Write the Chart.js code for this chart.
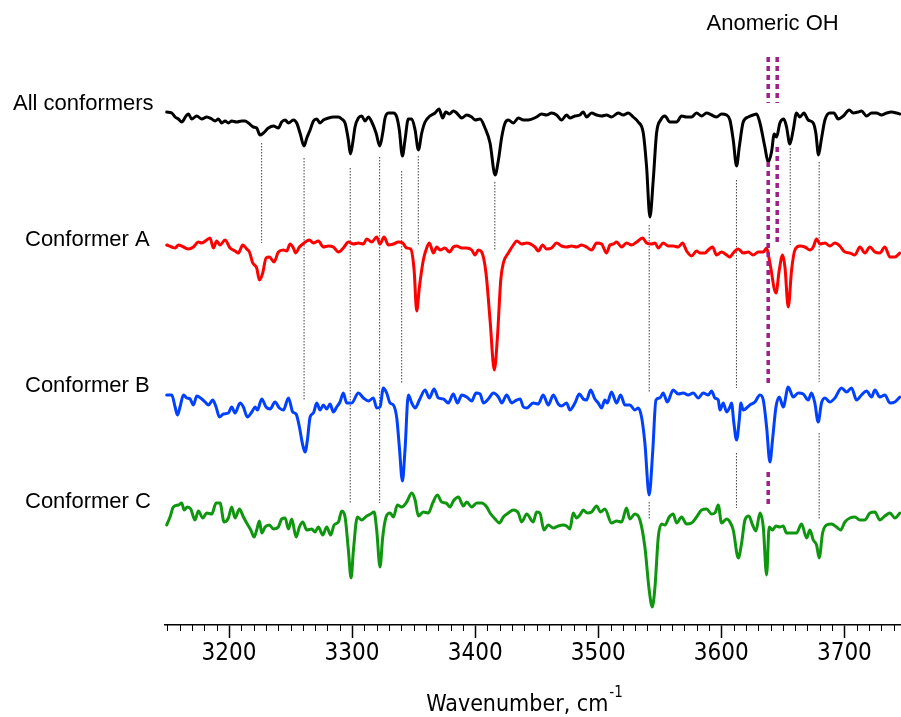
<!DOCTYPE html>
<html>
<head>
<meta charset="utf-8">
<title>IR spectra of conformers</title>
<script src="https://cdn.jsdelivr.net/npm/chart.js@4.4.1/dist/chart.umd.min.js"></script>
<style>
  html, body { margin: 0; padding: 0; background: #fff; }
  canvas { display: block; }
</style>
</head>
<body>
<canvas id="spectra" width="901" height="717"></canvas>
<script>
// wavenumbers (cm-1) and signal (arb. units, dips = absorption)
const allWn = [3149.4,3153.5,3156.2,3158.9,3161.6,3165.1,3167.0,3169.7,3173.8,3177.9,
  3181.9,3186.0,3188.7,3191.4,3194.1,3196.8,3199.5,3202.2,3206.3,3210.3,
  3213.1,3215.8,3219.8,3222.5,3225.2,3227.9,3232.0,3236.1,3240.1,3242.8,
  3245.6,3248.3,3252.3,3255.0,3257.7,3261.0,3263.2,3265.9,3268.6,3271.3,
  3274.0,3276.7,3280.8,3284.8,3288.9,3291.6,3294.3,3297.0,3298.6,3300.5,
  3302.4,3305.1,3307.8,3310.5,3313.3,3316.0,3319.5,3322.5,3324.9,3326.8,
  3329.5,3333.6,3336.3,3338.4,3340.9,3343.0,3345.7,3348.5,3351.2,3353.9,
  3356.6,3359.3,3363.3,3367.4,3370.7,3373.6,3376.1,3379.1,3382.3,3385.0,
  3389.1,3393.1,3397.2,3399.9,3404.0,3408.0,3412.1,3416.2,3418.9,3421.6,
  3424.3,3427.0,3431.0,3435.1,3439.2,3443.2,
  3449.9,3454.0,3458.0,3462.1,3466.2,3470.2,3474.3,3477.0,3481.1,3485.1,
  3487.8,3490.5,3494.6,3498.7,3502.7,3506.8,3510.8,3516.3,3520.3,3524.4,
  3528.4,3532.5,3536.6,3539.3,3542.0,3544.7,3547.4,3550.7,3554.2,3558.2,
  3563.7,3567.7,3571.8,3575.8,3579.9,3584.0,3588.0,3592.1,3596.1,3600.2,
  3604.3,3607.0,3609.7,3612.4,3614.6,3617.8,3621.9,3625.9,3628.6,3631.4,
  3635.4,3638.1,3640.8,3643.0,3644.9,3647.6,3650.8,3653.0,3655.7,3658.4,
  3661.1,3663.8,3667.1,3670.6,3674.7,3676.8,3679.0,3681.2,3684.2,3688.2,
  3691.5,3695.0,3699.1,3703.9,3707.2,3711.2,3713.9,3718.0,3722.1,3726.1,
  3730.2,3734.3,3738.3,3742.4,3745.1];
const allSig = [3,2,-2,-4,-7,-1,1,-4,-1,-4,
  -2,-4,-6,-4,-8,-6,-8,-6,-7,-6,
  -6,-8,-12,-13,-20,-18,-13,-11,-13,-7,
  -5,-8,-5,-8,-18,-31,-23,-15,-6,-4,
  -8,-5,-3,-2,-2,-4,-8,-25,-39,-28,
  -12,-3,-1,-6,-2,-7,-18,-31,-18,-3,
  2,2,-2,-15,-41,-25,-4,-4,-15,-35,
  -18,-7,-1,2,6,-3,3,1,4,2,
  -3,0,-2,-5,-4,-13,-28,-60,-45,-22,
  -8,-5,-8,-3,-5,-5,
  -2,1,0,2,0,-5,0,-3,-1,0,
  3,-2,2,0,-1,0,-2,2,0,2,
  -2,-7,-18,-52,-102,-65,-18,-5,-1,-7,
  -7,-1,-2,-2,2,-1,2,0,-2,1,
  0,-5,-25,-51,-32,-7,-2,0,1,-8,
  -32,-47,-37,-19,-22,-8,-4,-12,-29,-15,
  2,-2,2,-5,-8,-18,-40,-25,-5,2,
  2,-4,-1,5,2,3,4,-1,2,2,
  0,2,3,2,1];

const confAWn = [3149.4,3153.5,3156.2,3158.9,3163.0,3167.0,3171.1,3175.1,3177.9,3181.9,
  3184.6,3187.3,3190.0,3192.7,3196.8,3200.9,3204.9,3207.6,3211.2,3214.4,
  3216.6,3219.3,3222.5,3224.7,3227.4,3230.1,3232.8,3236.6,3240.1,3244.2,
  3246.9,3249.6,3252.3,3254.2,3257.2,3261.0,3265.3,3268.6,3272.6,3276.7,
  3280.8,3284.8,3288.9,3292.9,3297.0,3301.1,3305.1,3309.2,3311.9,3316.0,
  3320.0,3322.7,3326.0,3329.5,3333.6,3337.6,3341.1,3344.4,3347.6,3350.4,
  3352.5,3354.7,3357.9,3360.6,3362.8,3366.1,3368.8,3371.5,3375.5,3379.1,
  3382.3,3385.0,3389.1,3393.1,3397.2,3399.9,3402.6,3405.3,3408.8,3412.1,
  3415.6,3418.1,3420.8,3422.9,3427.0,3431.0,3433.8,3437.8,3441.9,
  3448.6,3451.3,3454.8,3458.0,3462.1,3466.2,3470.2,3474.3,3478.4,3482.4,
  3486.5,3490.5,3494.6,3498.7,3502.7,3506.8,3509.5,3512.2,3514.9,3519.0,
  3523.0,3527.1,3531.2,3536.0,3539.3,3543.3,3546.1,3548.8,3552.8,3556.9,
  3560.9,3565.0,3568.5,3571.8,3575.8,3579.9,3582.6,3586.7,3589.4,3592.9,
  3596.1,3600.2,3604.3,3607.0,3609.7,3613.8,3617.8,3621.9,3625.9,3630.0,
  3634.1,3636.8,3639.5,3644.4,3647.1,3649.8,3651.7,3654.4,3657.1,3659.8,
  3663.8,3667.9,3672.0,3674.7,3677.4,3680.1,3684.2,3688.2,3692.3,3696.3,
  3700.4,3704.5,3708.5,3712.6,3716.7,3720.7,3724.8,3728.8,3732.9,3737.0,
  3741.0,3745.1];
const confASig = [3,1,0,3,1,-1,1,6,5,8,
  10,0,7,3,8,0,-3,-5,3,-1,
  -4,-15,-20,-32,-25,-10,-9,-14,-4,-2,
  -3,4,0,-5,1,5,8,5,7,1,
  2,1,-4,0,6,4,5,4,9,6,
  11,4,11,3,4,6,5,0,-1,-22,
  -63,-39,-12,0,5,-5,1,-2,0,-4,
  1,2,0,0,-2,-7,-2,-4,-25,-72,
  -122,-89,-32,-15,-5,3,7,4,5,
  1,-3,3,-1,0,5,2,1,2,1,
  3,1,-2,5,4,-5,3,4,6,1,
  5,3,6,10,5,4,5,0,5,2,
  2,1,5,-3,-8,-3,-5,-5,-2,1,
  -7,-4,-7,-9,-5,-1,-5,-4,-7,-4,
  -4,0,-15,-45,-22,-7,-19,-59,-22,-2,
  2,1,-2,1,9,4,5,2,5,2,
  -4,-5,-7,1,-5,1,-4,-5,1,-9,
  -9,-5];

const confBWn = [3149.4,3153.5,3156.2,3158.1,3160.2,3163.0,3165.7,3168.4,3171.1,3173.8,
  3177.9,3180.6,3183.3,3186.8,3189.5,3192.2,3195.5,3199.5,3202.2,3204.9,
  3209.0,3211.7,3214.9,3218.5,3221.2,3223.1,3226.6,3230.1,3233.4,3237.4,
  3240.9,3244.2,3248.3,3251.8,3254.5,3257.2,3259.9,3261.8,3263.7,3265.9,
  3268.6,3271.3,3274.0,3276.7,3279.4,3282.1,3284.8,3287.5,3290.2,3292.9,
  3295.6,3299.7,3305.1,3309.2,3313.3,3317.3,3320.0,3322.7,3325.4,3328.1,
  3330.9,3333.6,3336.3,3338.4,3340.9,3343.0,3345.7,3348.5,3351.2,3354.7,
  3359.3,3362.8,3366.6,3370.1,3374.2,3378.2,3382.3,3385.6,3389.1,3393.1,
  3397.2,3400.7,3404.0,3406.7,3410.7,3414.8,3418.9,3421.6,3425.6,3429.7,
  3432.4,3436.5,3439.2,3441.9,
  3447.2,3451.3,3455.3,3459.4,3463.5,3467.5,3470.2,3474.3,3477.0,3481.1,
  3484.6,3487.8,3490.5,3493.8,3497.3,3500.0,3502.7,3505.4,3507.3,3510.8,
  3514.9,3518.2,3521.7,3525.7,3529.8,3532.5,3535.2,3537.9,3541.4,3544.2,
  3546.9,3550.1,3552.8,3556.1,3560.9,3565.0,3569.1,3573.1,3577.2,3581.3,
  3585.3,3589.4,3592.1,3594.8,3597.5,3598.9,3601.6,3604.3,3607.0,3608.3,
  3610.2,3612.4,3614.6,3615.9,3617.8,3623.2,3627.3,3631.4,3634.1,3636.8,
  3639.5,3641.6,3644.4,3647.1,3650.3,3654.4,3658.4,3662.5,3666.6,3670.6,
  3673.3,3676.0,3678.7,3681.4,3684.2,3688.2,3692.3,3697.7,3701.8,3705.8,
  3709.9,3713.9,3718.0,3722.1,3724.8,3728.8,3732.9,3737.0,3741.0,3745.1];
const confBSig = [5,5,-7,-15,-7,5,2,1,-5,4,
  1,-2,-5,0,-7,-17,-14,-13,-7,-13,
  -3,-7,-17,-12,-7,-10,1,-7,-9,-2,
  -8,-10,2,-12,-14,-27,-45,-52,-40,-17,
  -13,-3,-10,-5,-9,-4,-12,-7,-2,7,
  -3,-3,7,2,-1,2,-8,-7,12,7,
  -3,-5,-18,-47,-81,-50,5,-3,-8,0,
  10,2,11,2,1,-3,6,-3,5,3,
  -1,7,6,-3,1,7,3,-3,5,-3,
  -1,1,-7,-8,
  -3,-4,5,-5,5,-4,-6,-3,-10,-3,
  6,1,0,10,1,-3,-8,0,-3,8,
  -3,5,-5,-5,-10,-8,-17,-43,-95,-53,
  0,2,7,-2,10,6,7,5,7,2,
  7,5,9,2,0,-10,-3,-12,-7,-3,
  -23,-40,-20,-3,-10,-5,-2,5,0,-27,
  -62,-40,-7,3,-7,13,3,7,6,0,
  7,-3,-22,-3,2,-2,2,12,8,12,
  0,5,9,3,10,3,5,-3,-2,3];

const confCWn = [3149.4,3152.1,3154.8,3158.9,3161.6,3163.5,3166.2,3168.9,3172.4,3175.1,
  3178.7,3181.9,3186.0,3189.5,3192.7,3196.0,3199.5,3202.2,3204.9,3208.5,
  3211.7,3214.4,3217.7,3220.4,3222.5,3224.7,3226.6,3229.3,3232.8,3236.1,
  3240.1,3242.8,3245.6,3248.3,3251.0,3254.5,3257.2,3259.9,3263.2,3267.2,
  3269.9,3272.6,3276.2,3279.4,3282.6,3285.4,3288.9,3291.6,3294.3,3297.0,
  3299.2,3301.1,3304.3,3307.8,3311.9,3315.1,3317.9,3320.0,3322.7,3324.9,
  3327.6,3330.9,3333.6,3336.8,3340.3,3344.4,3348.5,3351.2,3353.9,3357.9,
  3362.0,3365.5,3369.3,3372.8,3376.3,3379.6,3382.3,3386.4,3390.4,3393.1,
  3397.2,3401.3,3405.3,3409.4,3412.1,3416.2,3419.7,3422.9,3427.0,3431.0,
  3435.1,3437.8,3441.9,
  3447.2,3449.9,3452.6,3455.9,3459.4,3463.5,3467.5,3471.6,3474.3,3477.0,
  3479.7,3482.4,3485.1,3487.8,3491.1,3494.6,3498.7,3501.9,3505.4,3510.8,
  3514.9,3519.0,3523.0,3525.7,3529.8,3533.9,3537.9,3541.4,3543.9,3546.1,
  3548.8,3551.5,3554.2,3557.7,3560.9,3563.7,3567.7,3571.8,3575.8,3579.9,
  3584.0,3588.0,3592.1,3594.8,3597.5,3600.2,3604.3,3607.0,3609.7,3613.8,
  3616.5,3619.2,3622.4,3625.4,3628.1,3631.4,3634.1,3636.8,3638.9,3641.6,
  3644.4,3647.6,3650.3,3653.0,3657.1,3661.1,3665.2,3669.3,3672.0,3674.7,
  3677.4,3679.5,3682.3,3685.5,3689.6,3693.6,3696.9,3700.4,3704.5,3708.5,
  3712.6,3716.7,3720.7,3724.8,3728.8,3732.9,3737.0,3741.0,3745.1];
const confCSig = [-10,-2,8,10,12,5,8,6,-5,4,
  -3,2,1,12,12,-7,-3,8,-3,6,
  -2,-8,-15,-22,-15,-6,-18,-12,-10,-14,
  -12,-4,-3,-14,-4,-22,-12,-7,-15,-14,
  -17,-12,-20,-12,-20,-10,-7,4,-2,-35,
  -63,-35,-2,-5,-1,1,3,-15,-52,-22,
  -2,2,-2,10,8,13,22,15,-1,3,
  2,12,20,13,12,8,14,18,9,13,
  8,12,12,8,2,-4,-8,-2,2,5,
  2,-7,1,
  -7,3,2,-15,-10,-13,-11,-10,-11,-14,
  2,-3,0,5,2,3,9,3,6,-8,
  -6,-7,7,-4,1,-5,-32,-75,-92,-72,
  -22,-9,-10,-2,1,-8,-2,-9,-8,-2,
  5,6,1,2,10,-8,-4,-7,-15,-43,
  -28,-5,-1,-10,-16,2,-12,-60,-12,-15,
  -11,-12,-11,-18,-18,-18,-9,-23,-15,-25,
  -30,-43,-18,-10,-9,-12,-15,-7,-3,-2,
  -5,-5,2,3,-5,-1,2,-3,2];

const traceNames = ['All conformers', 'Conformer A', 'Conformer B', 'Conformer C'];
const traceOffsets = [510, 377, 225, 110];

// dotted guides linking matching bands (wavenumber, top and bottom in plot units)
const guideWn     = [3226.5, 3261, 3298.5, 3322.4, 3340.3, 3353.8, 3416, 3541.4, 3541.4, 3612.3, 3612.3, 3656, 3679.5, 3679.5];
const guideTop    = [482, 467, 457, 468, 454, 469, 443, 400, 123, 445, 172, 477, 463, 192];
const guideBottom = [382, 225, 122, 122, 241, 380, 375, 232, 105, 237, 117, 380, 243, 105];

// anomeric OH markers
const anomericWn     = [3638.1, 3638.1, 3638.1, 3645.4, 3645.4];
const anomericTop    = [568, 463, 153, 568, 478];
const anomericBottom = [522, 240, 117, 522, 379];

const majorTicks = [3200, 3300, 3400, 3500, 3600, 3700];
const minorStep = 10;

const colors = ['#000000', '#ff0000', '#0040ff', '#0f960f'];
const axisFont = '"DejaVu Sans Condensed", "DejaVu Sans", sans-serif';
const plainFont = '"Liberation Sans", Arial, sans-serif';

const traceWn = [allWn, confAWn, confBWn, confCWn];
const traceSig = [allSig, confASig, confBSig, confCSig];

function segments(wn, top, bottom) {
  const pts = [];
  wn.forEach((w, i) => {
    pts.push({x: w, y: top[i]}, {x: w, y: bottom[i]}, {x: w, y: null});
  });
  return pts;
}

const datasets = [];
datasets.push({
  label: 'Anomeric OH',
  data: segments(anomericWn, anomericTop, anomericBottom),
  borderColor: '#a01e8c',
  borderWidth: 3.5,
  borderDash: [5, 4],
  pointRadius: 0,
  spanGaps: false,
  order: 0
});
traceNames.forEach((name, i) => {
  datasets.push({
    label: name,
    data: traceWn[i].map((w, j) => ({x: w, y: traceOffsets[i] + traceSig[i][j]})),
    borderColor: colors[i],
    borderWidth: 3,
    pointRadius: 0,
    cubicInterpolationMode: 'monotone',
    borderJoinStyle: 'round',
    borderCapStyle: 'round',
    order: 1
  });
});
datasets.push({
  label: 'guides',
  data: segments(guideWn, guideTop, guideBottom),
  borderColor: '#444',
  borderWidth: 1,
  borderDash: [1.5, 1.5],
  pointRadius: 0,
  spanGaps: false,
  order: 2
});

// minor ticks, trace names, annotation and axis title
const decorations = {
  id: 'decorations',
  afterDraw(chart) {
    const ctx = chart.ctx;
    const xs = chart.scales.x;
    const area = chart.chartArea;
    ctx.save();
    ctx.strokeStyle = '#000';
    ctx.lineWidth = 1;
    for (let w = Math.ceil(xs.min / minorStep) * minorStep; w <= xs.max; w += minorStep) {
      if (majorTicks.includes(w)) continue;
      const px = Math.round(xs.getPixelForValue(w)) + 0.5;
      ctx.beginPath();
      ctx.moveTo(px, area.bottom);
      ctx.lineTo(px, area.bottom + 6);
      ctx.stroke();
    }

    ctx.fillStyle = '#000';
    ctx.textBaseline = 'middle';
    ctx.textAlign = 'left';
    ctx.font = '22px ' + plainFont;
    const nameX = [13, 25, 25, 25];
    const nameY = [104, 240, 386, 502];
    traceNames.forEach((n, i) => ctx.fillText(n, nameX[i], nameY[i]));

    ctx.textAlign = 'center';
    ctx.fillText('Anomeric OH', xs.getPixelForValue(3641.7), 24);

    // axis title with superscript
    const main = 'Wavenumber, cm';
    const sup = '-1';
    ctx.font = '23px ' + axisFont;
    const wMain = ctx.measureText(main).width;
    ctx.font = '15px ' + axisFont;
    const wSup = ctx.measureText(sup).width;
    const start = 524 - (wMain + wSup) / 2;
    ctx.textAlign = 'left';
    ctx.font = '23px ' + axisFont;
    ctx.fillText(main, start, 705);
    ctx.font = '15px ' + axisFont;
    ctx.fillText(sup, start + wMain + 1, 693);
    ctx.restore();
  }
};

new Chart(document.getElementById('spectra'), {
  type: 'line',
  data: { datasets: datasets },
  options: {
    responsive: false,
    animation: false,
    layout: { padding: { left: 165, right: 0, top: 0, bottom: 0 } },
    plugins: { legend: { display: false }, tooltip: { enabled: false } },
    scales: {
      x: {
        type: 'linear',
        position: 'bottom',
        min: 3148,
        max: 3746,
        afterBuildTicks: (scale) => { scale.ticks = majorTicks.map(v => ({ value: v })); },
        afterFit: (scale) => { scale.height = 92; },
        ticks: {
          autoSkip: false,
          maxRotation: 0,
          padding: 1,
          color: '#000',
          font: { family: axisFont, size: 24 },
          callback: (v) => String(v)
        },
        grid: {
          drawOnChartArea: false,
          tickLength: 13,
          tickColor: '#000',
          tickWidth: 1.5
        },
        border: { color: '#000', width: 1.5 }
      },
      y: {
        display: false,
        min: 0,
        max: 625
      }
    }
  },
  plugins: [decorations]
});
</script>
</body>
</html>
